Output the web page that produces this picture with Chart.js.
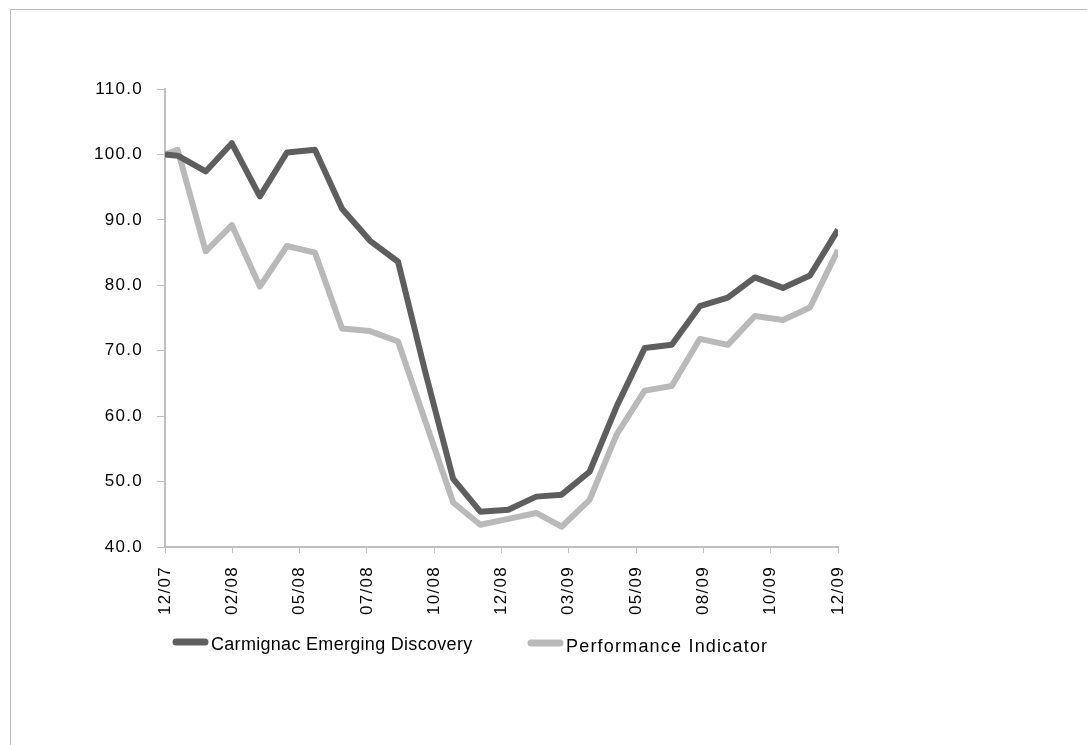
<!DOCTYPE html>
<html>
<head>
<meta charset="utf-8">
<script src="https://cdn.jsdelivr.net/npm/chart.js@4/dist/chart.umd.min.js"></script>
<style>
  html, body { margin: 0; padding: 0; background: #fff; overflow: hidden; }
  #wrap { position: relative; width: 1087px; height: 745px; }
  #frame { position: absolute; left: 10px; top: 9px; width: 1100px; height: 760px; border: 1px solid #bdbdbd; }
  canvas { position: absolute; left: 0; top: 0; }
</style>
</head>
<body>
<div id="wrap">
  <div id="frame"></div>
  <canvas id="chart" width="1087" height="745"></canvas>
</div>
<script>
// dates of the points (month ends, first one mid-December)
const dates = ['2007-12-17', '2007-12-31', '2008-01-31', '2008-02-29', '2008-03-31', '2008-04-30',
    '2008-05-31', '2008-06-30', '2008-07-31', '2008-08-31', '2008-09-30', '2008-10-31', '2008-11-30',
    '2008-12-31', '2009-01-31', '2009-02-28', '2009-03-31', '2009-04-30', '2009-05-31', '2009-06-30',
    '2009-07-31', '2009-08-31', '2009-09-30', '2009-10-31', '2009-11-30', '2009-12-31'];

const fundValues = [100.0, 99.8, 97.4, 101.7, 93.6, 100.3, 100.7, 91.7, 86.8, 83.6, 66.8, 50.4, 45.4,
    45.7, 47.7, 48.0, 51.5, 61.5, 70.4, 70.9, 76.8, 78.1, 81.2, 79.6, 81.5, 88.5];

const indicatorValues = [100.0, 100.7, 85.2, 89.2, 79.8, 86.0, 85.0, 73.4, 73.0, 71.4, 59.3, 46.8, 43.4,
    44.3, 45.2, 43.1, 47.2, 57.2, 63.9, 64.6, 71.8, 70.9, 75.3, 74.7, 76.6, 85.4];

const tickLabels = ['12/07', '02/08', '05/08', '07/08', '10/08', '12/08', '03/09', '05/09', '08/09', '10/09', '12/09'];

const seriesNames = ['Carmignac Emerging Discovery', 'Performance Indicator'];
const seriesColors = ['#5e5e5e', '#b9b9b9'];

// turn dates into day offsets for a linear x axis
const DAY = 86400000;
function toTime(s) {
    const p = s.split('-').map(Number);
    return Date.UTC(p[0], p[1] - 1, p[2]);
}
const t0 = toTime(dates[0]);
const span = (toTime(dates[dates.length - 1]) - t0) / DAY;
const dayOffsets = dates.map(d => (toTime(d) - t0) / DAY);

function points(values) {
    return values.map((v, i) => ({ x: dayOffsets[i], y: v }));
}

// a bit of letter spacing on the tick labels, like the original
const spacingPlugin = {
    id: 'spacing',
    beforeDraw(chart) { chart.ctx.letterSpacing = '1.3px'; },
    afterDraw(chart) { chart.ctx.letterSpacing = '0px'; }
};

// legend drawn by hand so the two items sit where the original puts them
const legendPlugin = {
    id: 'sheetLegend',
    afterDraw(chart) {
        const ctx = chart.ctx;
        const items = [
            { x: 173, y: 642, ty: 645, gap: '0.3px' },
            { x: 528, y: 643, ty: 647, gap: '1.2px' }
        ];
        ctx.save();
        ctx.font = '18px "Liberation Sans", Arial, sans-serif';
        ctx.textBaseline = 'middle';
        items.forEach((pos, i) => {
            ctx.strokeStyle = seriesColors[i];
            ctx.lineWidth = 7;
            ctx.lineCap = 'round';
            ctx.beginPath();
            ctx.moveTo(pos.x + 3, pos.y);
            ctx.lineTo(pos.x + 32, pos.y);
            ctx.stroke();
            ctx.letterSpacing = pos.gap;
            ctx.fillStyle = '#000';
            ctx.fillText(seriesNames[i], pos.x + 38, pos.ty);
        });
        ctx.restore();
    }
};

const axisColor = '#bfbfbf';
const tickFont = { family: '"Liberation Sans", Arial, sans-serif', size: 17 };

new Chart(document.getElementById('chart'), {
    type: 'line',
    data: {
        datasets: [
            {
                label: seriesNames[0],
                data: points(fundValues),
                borderColor: seriesColors[0],
                borderWidth: 6,
                pointRadius: 0,
                tension: 0,
                borderJoinStyle: 'round',
                borderCapStyle: 'butt'
            },
            {
                label: seriesNames[1],
                data: points(indicatorValues),
                borderColor: seriesColors[1],
                borderWidth: 6,
                pointRadius: 0,
                tension: 0,
                borderJoinStyle: 'round',
                borderCapStyle: 'butt'
            }
        ]
    },
    options: {
        responsive: false,
        animation: false,
        layout: { padding: { left: 0, top: 89, right: 249, bottom: 100 } },
        plugins: {
            legend: { display: false },
            tooltip: { enabled: false }
        },
        scales: {
            x: {
                type: 'linear',
                min: 0,
                max: span,
                afterBuildTicks(scale) {
                    scale.ticks = tickLabels.map((_, i) => ({ value: i * span / (tickLabels.length - 1) }));
                },
                afterFit(scale) { scale.height = 98; },
                ticks: {
                    autoSkip: false,
                    minRotation: 90,
                    maxRotation: 90,
                    padding: 13,
                    color: '#000',
                    font: tickFont,
                    callback: (v, i) => tickLabels[i]
                },
                grid: { drawOnChartArea: false, tickLength: 6, color: axisColor, lineWidth: 1 },
                border: { color: axisColor, width: 2 }
            },
            y: {
                min: 40,
                max: 110,
                afterFit(scale) { scale.width = 165; },
                ticks: {
                    stepSize: 10,
                    padding: 14,
                    color: '#000',
                    font: tickFont,
                    callback: v => v.toFixed(1)
                },
                grid: { drawOnChartArea: false, tickLength: 8, color: axisColor, lineWidth: 1 },
                border: { color: axisColor, width: 2 }
            }
        }
    },
    plugins: [spacingPlugin, legendPlugin]
});
</script>
</body>
</html>
